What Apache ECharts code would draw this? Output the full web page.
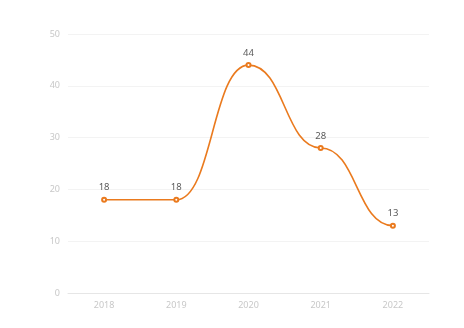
<!DOCTYPE html>
<html>
<head>
<meta charset="utf-8">
<script src="https://cdn.jsdelivr.net/npm/echarts@6/dist/echarts.min.js"></script>
<style>
  html, body { margin: 0; padding: 0; background: #fff; }
  #chart { width: 464px; height: 328px; }
</style>
</head>
<body>
<div id="chart"></div>
<script>
// Yearly counts
const years = ['2018', '2019', '2020', '2021', '2022'];
const counts = [18, 18, 44, 28, 13];
const yTicks = { min: 0, max: 50, interval: 10 };

const LINE_COLOR = '#ea7a1e';
const SMOOTH = 0.5;

// Curve: cubic segments between consecutive points, flat tangent at every point
function renderCurve(params, api) {
  const i = params.dataIndex;
  if (i === 0) return null;
  const p0 = api.coord([i - 1, api.value(2)]);
  const p1 = api.coord([i, api.value(1)]);
  const dx = p1[0] - p0[0];
  return {
    type: 'bezierCurve',
    shape: {
      x1: p0[0], y1: p0[1],
      x2: p1[0], y2: p1[1],
      cpx1: p0[0] + dx * SMOOTH, cpy1: p0[1],
      cpx2: p1[0] - dx * SMOOTH, cpy2: p1[1]
    },
    style: { stroke: LINE_COLOR, lineWidth: 1.6, fill: null }
  };
}

const curveData = counts.map((v, i) => [i, v, i > 0 ? counts[i - 1] : v]);

const chart = echarts.init(document.getElementById('chart'), null, { renderer: 'canvas' });
chart.setOption({
  animation: false,
  backgroundColor: '#ffffff',
  grid: { left: 68, right: 35, top: 34, bottom: 35 },
  xAxis: {
    type: 'category',
    data: years,
    boundaryGap: true,
    axisLine: { lineStyle: { color: '#e6e6e6' } },
    axisTick: { show: false },
    axisLabel: { color: '#c8c8c8', fontSize: 9, margin: 8, fontFamily: 'Noto Sans' }
  },
  yAxis: {
    type: 'value',
    min: yTicks.min,
    max: yTicks.max,
    interval: yTicks.interval,
    axisLine: { show: false },
    axisTick: { show: false },
    axisLabel: { color: '#c8c8c8', fontSize: 9, margin: 8, fontFamily: 'Noto Sans' },
    splitLine: { lineStyle: { color: '#f3f3f3' } }
  },
  series: [{
    type: 'custom',
    data: curveData,
    encode: { x: 0, y: 1 },
    renderItem: renderCurve,
    silent: true,
    z: 1
  }, {
    type: 'line',
    data: counts,
    z: 2,
    symbol: 'emptyCircle',
    symbolSize: 4,
    lineStyle: { width: 0, opacity: 0 },
    itemStyle: { color: LINE_COLOR, borderWidth: 0.8 },
    label: {
      show: true,
      position: 'top',
      distance: 4,
      color: '#5a5a5a',
      fontSize: 9.5,
      fontFamily: 'Noto Sans'
    }
  }]
});
</script>
</body>
</html>
